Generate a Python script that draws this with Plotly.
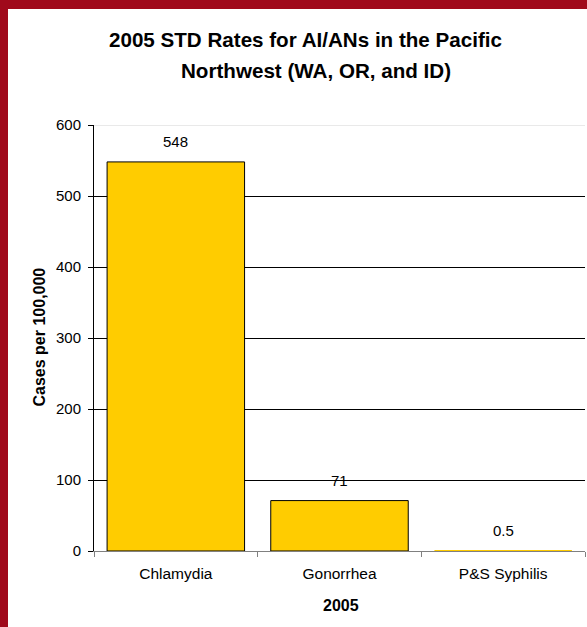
import plotly.graph_objects as go

categories = ["Chlamydia", "Gonorrhea", "P&S Syphilis"]
rates = [548, 71, 0.5]
rate_labels = ["548", "71", "0.5"]
y_ticks = [0, 100, 200, 300, 400, 500, 600]
title_lines = ["2005 STD Rates for AI/ANs in the Pacific", "Northwest (WA, OR, and ID)"]
x_title = "2005"
y_title = "Cases per 100,000"

W, H = 587, 627
L, R, T, B = 94, 2, 125, 76
pw, ph = W - L - R, H - T - B

def px_x(p):
    return (p - L) / pw

def px_y(p):
    return (H - B - p) / ph

RED = "#A0091B"
FONT = "Liberation Sans, Arial, sans-serif"

fig = go.Figure()
fig.add_trace(go.Bar(
    x=categories, y=rates,
    marker=dict(color="#FFCC00", line=dict(color="black", width=[1, 1, 0])),
    hoverinfo="skip",
))

for c, v, t in zip(categories, rates, rate_labels):
    fig.add_annotation(x=c, y=v, text=t, showarrow=False, yanchor="middle",
                       yshift=20, font=dict(size=15, color="black", family=FONT))

# title lines
for txt, cx, cy in zip(title_lines, [305, 316], [40, 70]):
    fig.add_annotation(xref="paper", yref="paper", x=px_x(cx), y=px_y(cy),
                       text="<b>" + txt + "</b>", showarrow=False,
                       xanchor="center", yanchor="middle",
                       font=dict(size=20.6, color="black", family=FONT))

# axis titles
fig.add_annotation(xref="paper", yref="paper", x=px_x(341), y=px_y(605),
                   text="<b>" + x_title + "</b>", showarrow=False,
                   xanchor="center", yanchor="middle",
                   font=dict(size=16, color="black", family=FONT))
fig.add_annotation(xref="paper", yref="paper", x=px_x(38.5), y=px_y(337),
                   text="<b>" + y_title + "</b>", showarrow=False, textangle=-90,
                   xanchor="center", yanchor="middle",
                   font=dict(size=16, color="black", family=FONT))

shapes = [
    dict(type="rect", xref="paper", yref="paper", x0=px_x(0), x1=px_x(8),
         y0=px_y(H), y1=px_y(0), fillcolor=RED, line=dict(width=0), layer="above"),
    dict(type="rect", xref="paper", yref="paper", x0=px_x(0), x1=px_x(W),
         y0=px_y(9), y1=px_y(0), fillcolor=RED, line=dict(width=0), layer="above"),
    dict(type="line", xref="paper", yref="y", x0=0, x1=1, y0=600, y1=600,
         line=dict(color="#D4D4D4", width=1), layer="above"),
]

fig.update_layout(
    width=W, height=H,
    margin=dict(l=L, r=R, t=T, b=B),
    paper_bgcolor="white", plot_bgcolor="white",
    bargap=0.16,
    showlegend=False,
    shapes=shapes,
    font=dict(family=FONT, size=15, color="black"),
    xaxis=dict(
        showline=True, linecolor="#808080", linewidth=1,
        ticks="outside", tickson="boundaries", ticklen=5, tickcolor="#808080",
        showgrid=False, ticklabelstandoff=8,
        tickfont=dict(size=15.5, family=FONT, color="black"),
    ),
    yaxis=dict(
        range=[0, 600], tickvals=y_ticks,
        showline=True, linecolor="black", linewidth=1,
        ticks="outside", ticklen=5, tickcolor="black",
        showgrid=True, gridcolor="black", gridwidth=1,
        zeroline=False, ticklabelstandoff=4,
        tickfont=dict(size=15, family=FONT, color="black"),
    ),
)

fig.write_html("out.html")
